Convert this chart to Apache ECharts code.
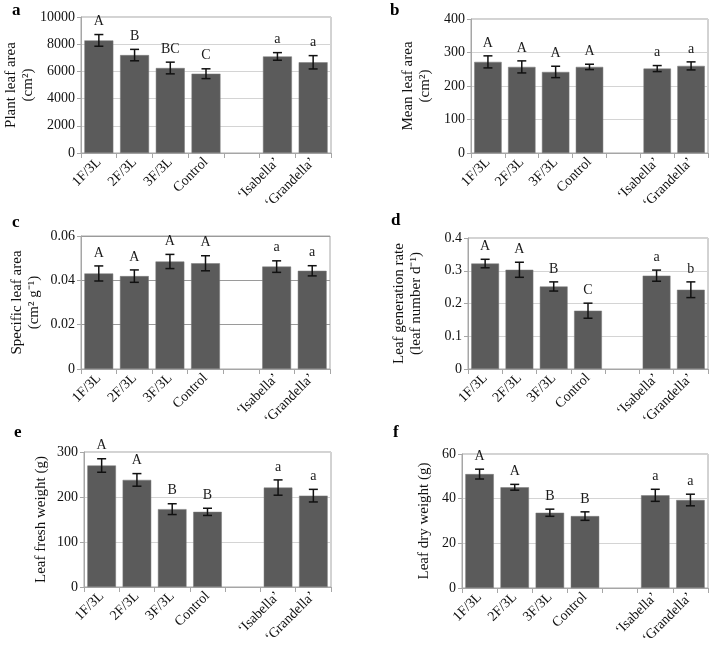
<!DOCTYPE html>
<html>
<head>
<meta charset="utf-8">
<script src="https://cdn.jsdelivr.net/npm/echarts@6/dist/echarts.min.js"></script>
<style>
  html, body { margin: 0; padding: 0; background: #fff; }
  #main { width: 709px; height: 653px; }
</style>
</head>
<body>
<div id="main"></div>
<script>
// categorias (la quinta queda vacia, separa tratamientos y cultivares)
var categorias = ['1F/3L', '2F/3L', '3F/3L', 'Control', '', '\u2018Isabella\u2019', '\u2018Grandella\u2019'];

// a - plant leaf area
var areaPlanta = [8280, 7200, 6250, 5830, null, 7100, 6670];
var areaPlantaErr = [430, 420, 430, 360, null, 280, 490];
var areaPlantaLetras = ['A', 'B', 'BC', 'C', '', 'a', 'a'];

// b - mean leaf area
var areaMedia = [272, 257, 242, 257, null, 252, 260];
var areaMediaErr = [18, 18, 17, 8, null, 9, 12];
var areaMediaLetras = ['A', 'A', 'A', 'A', '', 'a', 'a'];

// c - specific leaf area
var areaEspecifica = [0.0431, 0.0419, 0.0485, 0.0477, null, 0.0462, 0.0443];
var areaEspecificaErr = [0.0034, 0.0028, 0.0032, 0.0034, null, 0.0026, 0.0023];
var areaEspecificaLetras = ['A', 'A', 'A', 'A', '', 'a', 'a'];

// d - leaf generation rate
var tasaHojas = [0.322, 0.303, 0.252, 0.178, null, 0.285, 0.242];
var tasaHojasErr = [0.013, 0.023, 0.014, 0.023, null, 0.017, 0.024];
var tasaHojasLetras = ['A', 'A', 'B', 'C', '', 'a', 'b'];

// e - leaf fresh weight
var pesoFresco = [270, 238, 173, 167, null, 221, 203];
var pesoFrescoErr = [15, 14, 12, 8, null, 17, 14];
var pesoFrescoLetras = ['A', 'A', 'B', 'B', '', 'a', 'a'];

// f - leaf dry weight
var pesoSeco = [51, 45.1, 33.7, 32.2, null, 41.5, 39.4];
var pesoSecoErr = [2.2, 1.3, 1.6, 1.9, null, 2.7, 2.6];
var pesoSecoLetras = ['A', 'A', 'B', 'B', '', 'a', 'a'];

var fuente = 'Liberation Serif, Times New Roman, serif';
var gris = '#a6a6a6';

var paneles = [
  { letra: 'a', vals: areaPlanta, err: areaPlantaErr, letras: areaPlantaLetras, max: 10000, int: 2000,
    nombre: 'Plant leaf area\n(cm\u00b2)', gap: 44, grid: { left: 81, top: 17, width: 250, height: 136 }, lx: 12, ly: 2 },
  { letra: 'b', vals: areaMedia, err: areaMediaErr, letras: areaMediaLetras, max: 400, int: 100,
    nombre: 'Mean leaf area\n(cm\u00b2)', gap: 37, grid: { left: 471, top: 19, width: 237, height: 134 }, lx: 390, ly: 2 },
  { letra: 'c', vals: areaEspecifica, err: areaEspecificaErr, letras: areaEspecificaLetras, max: 0.06, int: 0.02,
    nombre: 'Specific leaf area\n(cm\u00b2 g\u207b\u00b9)', gap: 38, grid: { left: 81, top: 236, width: 249, height: 133 }, lx: 12, ly: 214, split: '#9a9a9a' },
  { letra: 'd', vals: tasaHojas, err: tasaHojasErr, letras: tasaHojasLetras, max: 0.4, int: 0.1,
    nombre: 'Leaf generation rate\n(leaf number d\u207b\u00b9)', gap: 43, grid: { left: 468, top: 238, width: 240, height: 131 }, lx: 391, ly: 212 },
  { letra: 'e', vals: pesoFresco, err: pesoFrescoErr, letras: pesoFrescoLetras, max: 300, int: 100,
    nombre: 'Leaf fresh weight (g)', gap: 34, grid: { left: 84, top: 452, width: 247, height: 135 }, lx: 14, ly: 424 },
  { letra: 'f', vals: pesoSeco, err: pesoSecoErr, letras: pesoSecoLetras, max: 60, int: 20,
    nombre: 'Leaf dry weight (g)', gap: 29, grid: { left: 462, top: 454, width: 246, height: 134 }, lx: 393, ly: 424 }
];

// barras de error + letras de significancia
function errorBarras(letras) {
  return function (params, api) {
    var i = api.value(0);
    var v = api.value(1);
    var e = api.value(2);
    var arriba = api.coord([i, v + e]);
    var abajo = api.coord([i, v - e]);
    var x = arriba[0];
    var w = 4.5;
    var st = { stroke: '#111', lineWidth: 1.5 };
    return {
      type: 'group',
      children: [
        { type: 'line', shape: { x1: x, y1: arriba[1], x2: x, y2: abajo[1] }, style: st },
        { type: 'line', shape: { x1: x - w, y1: arriba[1], x2: x + w, y2: arriba[1] }, style: st },
        { type: 'line', shape: { x1: x - w, y1: abajo[1], x2: x + w, y2: abajo[1] }, style: st },
        { type: 'text', x: x, y: arriba[1] - 13,
          style: { text: letras[i], align: 'center', verticalAlign: 'middle', fontSize: 14, fontFamily: fuente, fill: '#1a1a1a' } }
      ]
    };
  };
}

var option = { animation: false, grid: [], xAxis: [], yAxis: [], series: [], graphic: [] };

paneles.forEach(function (p, k) {
  option.grid.push(Object.assign({ show: true, borderColor: gris, borderWidth: 1, containLabel: false }, p.grid));
  option.xAxis.push({
    gridIndex: k,
    type: 'category',
    data: categorias,
    axisLine: { lineStyle: { color: gris } },
    axisTick: { show: true, length: 5, lineStyle: { color: gris } },
    axisLabel: { rotate: 45, interval: 0, margin: 7, fontSize: 14, fontFamily: fuente, color: '#111' }
  });
  option.yAxis.push({
    gridIndex: k,
    type: 'value',
    min: 0,
    max: p.max,
    interval: p.int,
    name: p.nombre,
    nameLocation: 'middle',
    nameGap: p.gap,
    nameRotate: 90,
    nameTextStyle: { fontSize: 15, fontFamily: fuente, color: '#111', lineHeight: 17 },
    axisLine: { show: true, lineStyle: { color: gris } },
    axisTick: { show: true, length: 4, lineStyle: { color: gris } },
    // sin separador de miles (10000, no 10,000)
    axisLabel: { fontSize: 14, fontFamily: fuente, color: '#111', margin: 6,
      formatter: function (v) { return String(v); } },
    splitLine: { lineStyle: { color: p.split || '#d4d4d4' } }
  });
  option.series.push({
    type: 'bar',
    xAxisIndex: k,
    yAxisIndex: k,
    data: p.vals,
    barWidth: '81%',
    itemStyle: { color: '#5b5b5b', borderColor: '#7a7a7a', borderWidth: 0.5 }
  });
  var datosErr = [];
  p.vals.forEach(function (v, i) {
    if (v != null) datosErr.push([i, v, p.err[i]]);
  });
  option.series.push({
    type: 'custom',
    xAxisIndex: k,
    yAxisIndex: k,
    data: datosErr,
    encode: { x: 0, y: 1 },
    renderItem: errorBarras(p.letras),
    clip: false,
    z: 5
  });
  option.graphic.push({
    type: 'text',
    left: p.lx,
    top: p.ly,
    style: { text: p.letra, fontSize: 17, fontWeight: 'bold', fontFamily: fuente, fill: '#000' }
  });
});

var myChart = echarts.init(document.getElementById('main'));
myChart.setOption(option);
</script>
</body>
</html>
